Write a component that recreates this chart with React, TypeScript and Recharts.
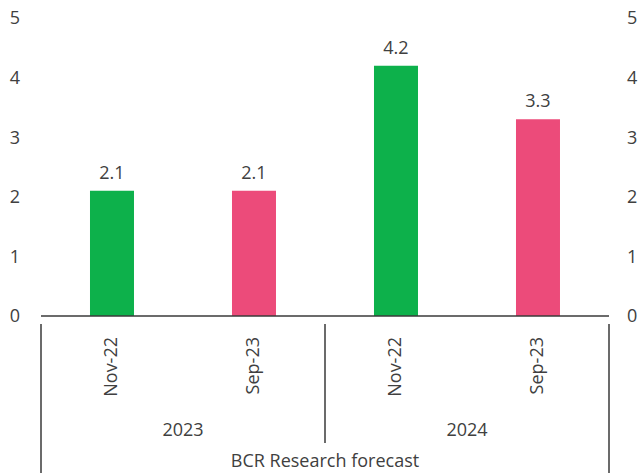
import { ComposedChart, Bar, Line, XAxis, YAxis, Cell, LabelList } from 'recharts'

const categories = ['Nov-22', 'Sep-23', 'Nov-22', 'Sep-23']
const years = ['2023', '2023', '2024', '2024']
const values = [2.1, 2.1, 4.2, 3.3]
const barColors = ['#0DB14B', '#EC4B7A', '#0DB14B', '#EC4B7A']
const yTicks = [0, 1, 2, 3, 4, 5]

const data = categories.map((c, i) => ({ key: `${c}-${years[i]}`, label: c, year: years[i], value: values[i] }))

const FONT = '"Open Sans", sans-serif'
const TEXT = '#404040'
const LINE = '#3a3a3a'
const H = 473

function CatTick(props: any) {
  const { x, y, payload, index } = props
  const half = payload.offset ?? 71
  const row = data[index]
  const left = x - half
  const right = x + half
  const isGroupEnd = index % 2 === 1
  const isLast = index === data.length - 1
  return (
    <g>
      <text
        x={x - 1}
        y={y + 13}
        transform={`rotate(-90, ${x - 1}, ${y + 13})`}
        textAnchor="end"
        dy="0.35em"
        fill={TEXT}
        fontSize={18}
        fontFamily={FONT}
      >
        {row.label}
      </text>
      {index === 0 && <line x1={left} y1={y} x2={left} y2={H} stroke={LINE} strokeWidth={1.5} />}
      {isGroupEnd && !isLast && <line x1={right} y1={y} x2={right} y2={y + 119} stroke={LINE} strokeWidth={1.5} />}
      {isLast && <line x1={right} y1={y} x2={right} y2={H} stroke={LINE} strokeWidth={1.5} />}
      {isGroupEnd && (
        <text x={left} y={y + 106} textAnchor="middle" dy="0.35em" fill={TEXT} fontSize={18} fontFamily={FONT}>
          {row.year}
        </text>
      )}
    </g>
  )
}

export default function App() {
  return (
    <div style={{ position: 'absolute', left: 0, top: 0, background: '#fff' }}>
      <ComposedChart
        width={640}
        height={H}
        data={data}
        margin={{ top: 18, right: 0, bottom: 0, left: 0 }}
        barCategoryGap="34.5%"
      >
        <XAxis
          dataKey="key"
          height={157}
          interval={0}
          tickLine={false}
          axisLine={{ stroke: LINE, strokeWidth: 1.5 }}
          tick={<CatTick />}
          label={{
            value: 'BCR Research forecast',
            position: 'insideBottom',
            offset: 6,
            fill: TEXT,
            fontSize: 18,
            fontFamily: FONT,
          }}
        />
        <YAxis
          yAxisId="left"
          orientation="left"
          width={41}
          domain={[0, 5]}
          ticks={yTicks}
          axisLine={false}
          tickLine={false}
          tickSize={0}
          tickMargin={21}
          tick={{ fill: TEXT, fontSize: 18, fontFamily: FONT }}
        />
        <YAxis
          yAxisId="right"
          orientation="right"
          width={31}
          domain={[0, 5]}
          ticks={yTicks}
          axisLine={false}
          tickLine={false}
          tickSize={0}
          tickMargin={18}
          tick={{ fill: TEXT, fontSize: 18, fontFamily: FONT }}
        />
        <Bar dataKey="value" yAxisId="left" isAnimationActive={false}>
          {data.map((d, i) => (
            <Cell key={d.key} fill={barColors[i]} />
          ))}
          <LabelList
            dataKey="value"
            position="top"
            offset={12}
            fill={TEXT}
            fontSize={18}
            fontFamily={FONT}
            formatter={(v: any) => Number(v).toFixed(1)}
          />
        </Bar>
        <Line
          dataKey="value"
          yAxisId="right"
          stroke="none"
          dot={false}
          activeDot={false}
          legendType="none"
          isAnimationActive={false}
        />
      </ComposedChart>
    </div>
  )
}
